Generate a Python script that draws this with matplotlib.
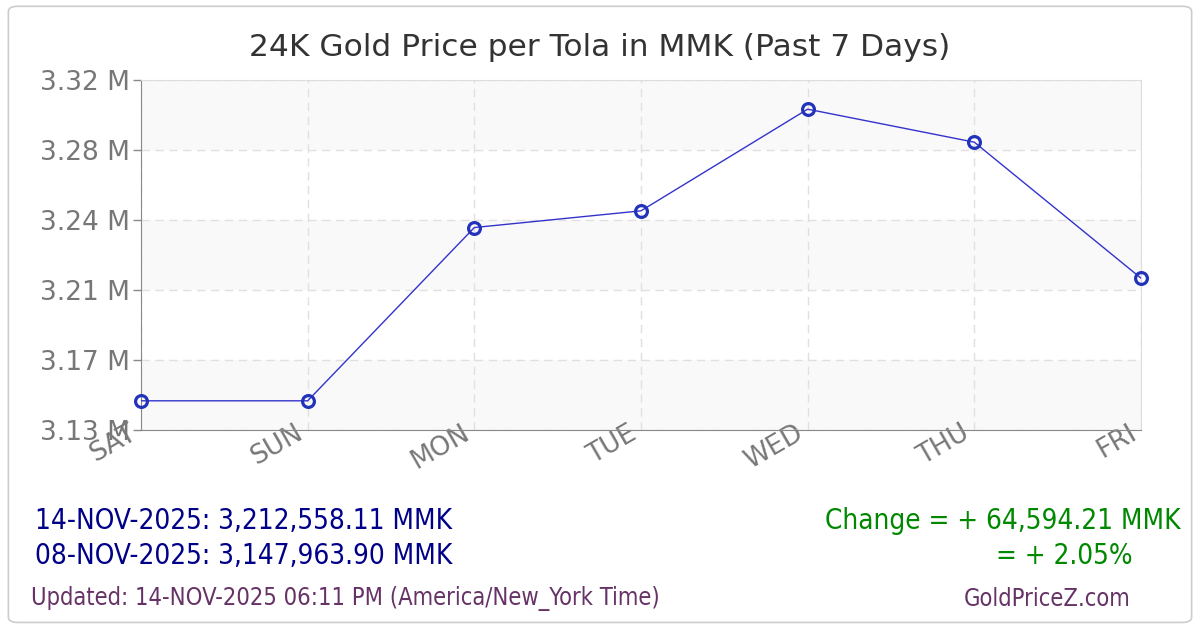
import matplotlib
matplotlib.use("Agg")
from matplotlib import pyplot as plt
from matplotlib.patches import FancyBboxPatch
from matplotlib.ticker import FixedLocator, FuncFormatter
from matplotlib.transforms import ScaledTranslation

# Gold price per tola (MMK), past 7 days
days = ['SAT', 'SUN', 'MON', 'TUE', 'WED', 'THU', 'FRI']
prices = [3147963.90, 3147963.90, 3239190, 3247980, 3301510, 3284140, 3212558.11]

title = "24K Gold Price per Tola in MMK (Past 7 Days)"
line_now = "14-NOV-2025: 3,212,558.11 MMK"
line_then = "08-NOV-2025: 3,147,963.90 MMK"
change_abs = "Change = + 64,594.21 MMK"
change_pct = "= + 2.05%"
updated = "Updated: 14-NOV-2025 06:11 PM (America/New_York Time)"
site = "GoldPriceZ.com"

fig = plt.figure(figsize=(12, 6.3), dpi=100)
fig.patch.set_facecolor('white')

# outer rounded frame
frame = FancyBboxPatch((0.007, 0.012), 0.986, 0.978, boxstyle="round,pad=0,rounding_size=0.008",
                       transform=fig.transFigure, facecolor='none', edgecolor='#cccccc', lw=1.2,
                       zorder=-1)
fig.patches.append(frame)

ax = fig.add_axes([0.1175, 0.3175, 0.8333, 0.5555])
x = list(range(len(days)))

lo, hi = min(prices), max(prices)
pad = (hi - lo) * 0.1
ymin, ymax = lo - pad, hi + pad
step = (ymax - ymin) / 5
yticks = [ymin + i * step for i in range(6)]

# alternating bands
for i in range(5):
    if i % 2 == 0:
        ax.axhspan(yticks[i], yticks[i + 1], color='#f9f9f9', zorder=0, lw=0)

ax.plot(x, prices, color='#3333cc', lw=1, zorder=3)
ax.plot(x, prices, 'o', ms=8.5, mfc='none', mec='#2233bb', mew=2.3, zorder=4, clip_on=False)

ax.set_xlim(0, len(days) - 1)
ax.set_ylim(ymin, ymax)
ax.yaxis.set_major_locator(FixedLocator(yticks))
ax.yaxis.set_major_formatter(FuncFormatter(lambda v, p: "%.2f M" % (v / 1e6)))
ax.set_xticks(x)
ax.set_xticklabels(days, rotation=30, ha='right', va='top')
shift = ScaledTranslation(6 / 100, 0, fig.dpi_scale_trans)
for lab in ax.get_xticklabels():
    lab.set_transform(lab.get_transform() + shift)

ax.grid(True, color='#e0e0e0', ls=(0, (6, 4)), lw=1)
ax.set_axisbelow(True)
for s in ['top', 'right']:
    ax.spines[s].set_color('#dddddd')
for s in ['left', 'bottom']:
    ax.spines[s].set_color('#888888')
ax.tick_params(axis='y', colors='#777777', labelsize=19, length=6, width=1, pad=2)
ax.tick_params(axis='x', colors='#777777', labelsize=19, length=0, pad=-7)
ax.tick_params(axis='y', color='#888888')

fig.text(0.5, 0.925, title, ha='center', va='center', fontsize=22.5, color='#333333')

cond = dict(fontstretch='condensed')
fig.text(0.029, 0.173, line_now, ha='left', va='center', fontsize=20, color='#000088', **cond)
fig.text(0.029, 0.118, line_then, ha='left', va='center', fontsize=20, color='#000088', **cond)
fig.text(0.984, 0.173, change_abs, ha='right', va='center', fontsize=20, color='#008800', **cond)
fig.text(0.944, 0.118, change_pct, ha='right', va='center', fontsize=20, color='#008800', **cond)
fig.text(0.026, 0.05, updated, ha='left', va='center', fontsize=17, color='#663366', **cond)
fig.text(0.942, 0.05, site, ha='right', va='center', fontsize=17, color='#663366', **cond)

fig.savefig('out.png', dpi=100)
